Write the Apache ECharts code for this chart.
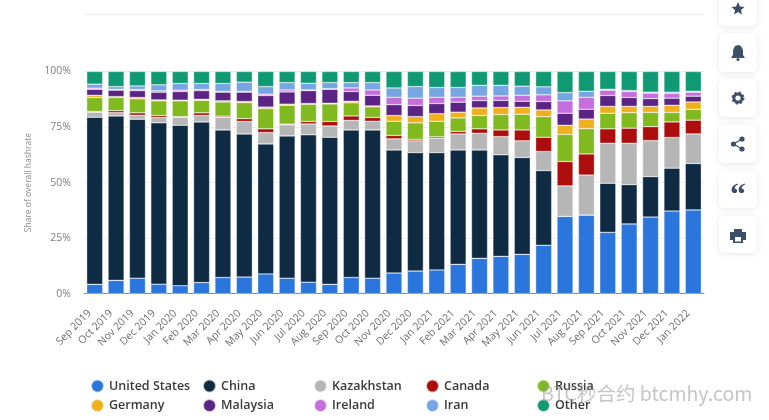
<!DOCTYPE html>
<html>
<head>
<meta charset="utf-8">
<title>Share of overall hashrate</title>
<style>
  html, body { margin: 0; padding: 0; background: #fff; }
  #chart { width: 769px; height: 420px; filter: blur(0.4px); }
</style>
<script src="https://cdn.jsdelivr.net/npm/echarts@6/dist/echarts.min.js"></script>
</head>
<body>
<div id="chart"></div>
<script>
var months = ['Sep 2019','Oct 2019','Nov 2019','Dec 2019','Jan 2020','Feb 2020','Mar 2020','Apr 2020','May 2020','Jun 2020','Jul 2020','Aug 2020','Sep 2020','Oct 2020','Nov 2020','Dec 2020','Jan 2021','Feb 2021','Mar 2021','Apr 2021','May 2021','Jun 2021','Jul 2021','Aug 2021','Sep 2021','Oct 2021','Nov 2021','Dec 2021','Jan 2022'];

var unitedStates = [4.2,6,7,4.3,3.6,5,7.3,7.5,8.9,7,5.2,4.2,7.3,7,9.3,10.2,10.7,13.2,15.9,16.8,17.7,21.8,34.8,35.4,27.6,31.4,34.5,37.2,37.7];
var china = [75.2,74,71.5,72.6,72.2,72.3,66.4,64.4,58.5,64,66.3,66.2,66.4,66.7,55.4,53.3,52.8,51.5,48.8,45.7,43.6,33.6,0,0,22.1,17.7,18.2,19.3,20.9];
var kazakhstan = [2.3,1.5,1.8,2.4,3.6,2.9,5.7,5.6,5.1,5,4.9,5.1,4.3,3.9,5,5.3,6.5,7.2,7.5,8.2,7.5,8.6,13.7,18,18,18.6,16.2,13.8,13.3];
var canada = [0.3,0.9,1.1,0.9,0.3,1.2,0.5,1.3,1.7,0.3,1.1,2,2,1.7,1.5,0.7,0.6,1.1,2,3,4.9,6.4,11,9.5,6.5,6.8,6.3,7,6.2];
var russia = [6.3,5.9,6.3,6.6,7.1,5.6,6.4,7.2,9.1,8.5,7.8,7.9,5.9,4.8,6.4,7.4,7,6.1,6,6.9,7.1,9.3,12.2,11.4,7,7,6.4,4.3,4.9];
var germany = [1,0.4,0.6,0.4,0.3,0.5,0.5,0.5,0.7,0.5,0.3,0.3,0.7,0.4,2.6,2.8,3.4,2.6,3.4,3.2,3.1,3,4.1,4.3,3.1,2.8,2.7,3.2,3.3];
var malaysia = [2.7,2.9,3.1,3.5,3.9,3.9,3.9,4.2,5.2,5.5,5.8,6.3,4.4,4.8,4.9,5,4.6,4.5,3.3,3.2,2.7,3.8,5.4,4.4,4.9,4,3.5,3.2,2.6];
var ireland = [0.5,0.4,0.5,0.6,0.6,0.5,0.4,0.4,0.6,0.9,0.3,0.3,1.6,2.4,3.3,3.3,2.8,2.2,2,2,2.7,3,5.6,5.4,2.4,2.7,2.5,2.1,1.8];
var iran = [1.8,1.2,1.6,2.7,3,2.7,3.5,4.1,3.4,3.3,3,2.7,2.4,3.3,4.2,5.2,4.4,4.4,4.9,4.8,4.1,3.6,3.7,2.7,0.4,0.4,0.4,0.6,0.4];
var other = [5.7,6.8,6.5,6,5.4,5.4,5.4,4.8,6.8,5,5.3,5,5,5,7.4,6.8,7.2,7.2,6.2,6.2,6.6,6.9,9.5,8.9,8,8.6,9.3,9.3,8.9];

var names = ['United States','China','Kazakhstan','Canada','Russia','Germany','Malaysia','Ireland','Iran','Other'];
var values = [unitedStates,china,kazakhstan,canada,russia,germany,malaysia,ireland,iran,other];
var colors = ['#2a76dd','#0f2a43','#b6b6b6','#ad0d0d','#80ba1e','#efb01f','#5b2484','#c46fdd','#76a5e3','#0f9a73'];

// legend columns, one legend per column so the rows line up
var legendColumns = [['United States','Germany'],['China','Malaysia'],['Kazakhstan','Ireland'],['Canada','Iran'],['Russia','Other']];
var legendLeft = [90,202,313,425,536];

var chart = echarts.init(document.getElementById('chart'));
var font = '"Open Sans", sans-serif';
var iconColor = '#3d4f6b';

function button(y, h) {
  return {
    type: 'rect', silent: true,
    shape: { x: 719, y: y, width: 38, height: h, r: 5 },
    style: { fill: '#fff', shadowBlur: 6, shadowColor: 'rgba(0,0,0,0.10)', shadowOffsetY: 1 }
  };
}
function poly(points) {
  return { type: 'polygon', silent: true, shape: { points: points }, style: { fill: iconColor } };
}
function dot(cx, cy, r) {
  return { type: 'circle', silent: true, shape: { cx: cx, cy: cy, r: r }, style: { fill: iconColor } };
}

var option = {
  backgroundColor: '#fff',
  color: colors,
  animation: false,
  grid: { left: 84, right: 65, top: 71.5, bottom: 126.3 },
  legend: legendColumns.map(function (col, i) {
    return {
      data: col,
      orient: 'vertical',
      left: legendLeft[i],
      top: 378.5,
      padding: 0,
      itemWidth: 13,
      itemHeight: 13,
      itemGap: 4.5,
      icon: 'circle',
      selectedMode: false,
      textStyle: { fontFamily: font, fontSize: 12.5, fontWeight: 600, color: '#3a3a3a' }
    };
  }),
  xAxis: {
    type: 'category',
    data: months,
    axisTick: { show: false },
    axisLine: { lineStyle: { color: '#8a8a8a', width: 1 } },
    axisLabel: { rotate: 45, interval: 0, margin: 13, padding: [0, 7, 0, 0], fontFamily: font, fontSize: 10.5, color: '#6e6e6e' }
  },
  yAxis: {
    type: 'value',
    min: 0,
    max: 100,
    interval: 25,
    name: 'Share of overall hashrate',
    nameLocation: 'middle',
    nameGap: 48,
    nameTextStyle: { fontFamily: font, fontSize: 8.5, color: '#8a8a8a' },
    axisLine: { show: false },
    axisTick: { show: false },
    axisLabel: { formatter: '{value}%', margin: 13, fontFamily: font, fontSize: 10.5, color: '#7f7f7f' },
    splitLine: { lineStyle: { color: '#ececec', width: 1 } }
  },
  series: names.map(function (name, i) {
    return {
      name: name,
      type: 'bar',
      stack: 'share',
      barWidth: 16,
      data: values[i],
      itemStyle: { borderColor: 'rgba(255,255,255,0.7)', borderWidth: 0.5 }
    };
  }),
  graphic: [
    { type: 'line', silent: true, shape: { x1: 84, y1: 14.5, x2: 704, y2: 14.5 }, style: { stroke: '#eeeeee', lineWidth: 1 } },
    button(-12, 38), button(33, 39), button(79, 38), button(125, 38), button(171, 37), button(216, 37),
    // star
    poly([[738,2],[740,6.5],[744.5,7],[741,10],[742,14.5],[738,12],[734,14.5],[735,10],[731.5,7],[736,6.5]]),
    // bell
    poly([[738,45],[741,46],[743,50],[743,55],[745,58],[731,58],[733,55],[733,50],[735,46]]),
    dot(738, 59.5, 1.6),
    // gear
    { type: 'ring', silent: true, shape: { cx: 738, cy: 98, r: 5.5, r0: 2.6 }, style: { fill: iconColor } },
    { type: 'circle', silent: true, shape: { cx: 738, cy: 98, r: 5.6 }, style: { fill: 'none', stroke: iconColor, lineWidth: 1.8, lineDash: [2.2, 2.2] } },
    // share
    dot(733.5, 144, 2.6), dot(742, 139, 2.6), dot(742, 149, 2.6),
    { type: 'polyline', silent: true, shape: { points: [[742,139],[733.5,144],[742,149]] }, style: { stroke: iconColor, lineWidth: 1.2, fill: 'none' } },
    // quote
    { type: 'text', silent: true, style: { x: 738, y: 197, text: '\u201C', align: 'center', verticalAlign: 'middle', font: 'bold 32px "Liberation Serif"', fill: iconColor } },
    // print
    poly([[734,229],[742,229],[742,232],[746,232],[746,240],[743,240],[743,243],[733,243],[733,240],[730,240],[730,232],[734,232]]),
    { type: 'rect', silent: true, shape: { x: 735, y: 237, width: 6, height: 4.5 }, style: { fill: '#fff' } },
    // watermark
    { type: 'text', silent: true, z: 100, style: { x: 541, y: 394, text: 'BTC\u79D2\u5408\u7EA6 btcmhy.com', verticalAlign: 'middle', font: '19.5px "Noto Sans CJK SC", "Open Sans"', fill: 'rgba(150,150,150,0.55)' } }
  ]
};

chart.setOption(option);
</script>
</body>
</html>
